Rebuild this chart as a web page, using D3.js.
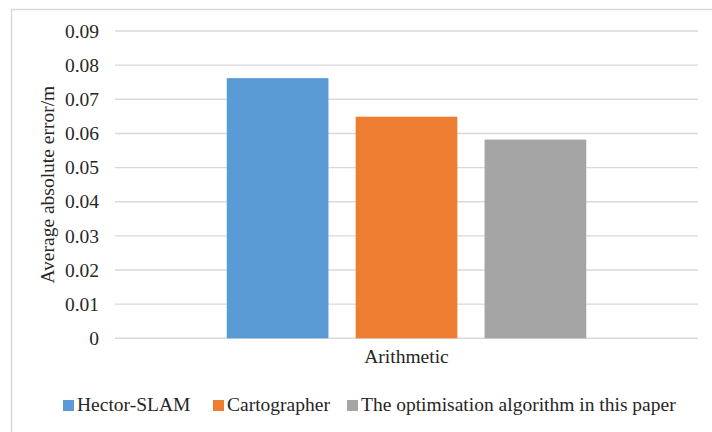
<!DOCTYPE html>
<html>
<head>
<meta charset="utf-8">
<script src="https://cdn.jsdelivr.net/npm/d3@7"></script>
</head>
<body style="margin:0">
<svg id="errplot" width="712" height="432" style="display:block"></svg>
<script>
// Chart data
const categories = ["Arithmetic"];
const seriesNames = ["Hector-SLAM", "Cartographer", "The optimisation algorithm in this paper"];
const seriesValues = [0.0762, 0.0649, 0.0582];
const seriesColors = ["#5b9bd5", "#ed7d31", "#a5a5a5"];
const yTicks = [0, 0.01, 0.02, 0.03, 0.04, 0.05, 0.06, 0.07, 0.08, 0.09];
const yTitle = "Average absolute error/m";

const FONT = "'Liberation Serif'";
const FONT_SIZE = "19.5px";
const TEXT_COLOR = "#262626";

const svg = d3.select("#errplot");
const W = 712, H = 432;
const plot = { left: 115, right: 698, top: 31, bottom: 338.3 };

function styleText(sel) {
  return sel.style("font-family", FONT, "important")
    .style("font-size", FONT_SIZE, "important")
    .style("fill", TEXT_COLOR);
}

// Outer frame (extends beyond the right and bottom edges)
svg.append("rect")
  .attr("x", 11.5).attr("y", 9.5)
  .attr("width", W + 10).attr("height", H + 10)
  .attr("fill", "#fff").attr("stroke", "#d9d9d9").attr("stroke-width", 1.5);

const y = d3.scaleLinear().domain([0, 0.09]).range([plot.bottom, plot.top]);
const x0 = d3.scaleBand().domain(categories).range([plot.left, plot.right]).padding(0);
const x1 = d3.scaleBand().domain(seriesNames)
  .range([0, x0.bandwidth()])
  .paddingInner(0.211).paddingOuter(0.867);

// Gridlines
svg.append("g").selectAll("line").data(yTicks).join("line")
  .attr("x1", plot.left).attr("x2", plot.right)
  .attr("y1", d => y(d)).attr("y2", d => y(d))
  .attr("stroke", "#d9d9d9").attr("stroke-width", 1.4);

// Y axis tick labels
const yAxis = d3.axisLeft(y).tickValues(yTicks)
  .tickFormat(d => d === 0 ? "0" : d3.format(".2f")(d))
  .tickSize(0).tickPadding(0);
const gy = svg.append("g").attr("transform", `translate(99,0)`).call(yAxis);
gy.attr("font-family", null).attr("font-size", null);
gy.select(".domain").remove();
styleText(gy.selectAll("text"));

// Bars
const gBars = svg.append("g");
categories.forEach(cat => {
  gBars.selectAll("rect.bar").data(seriesNames.map((s, i) => ({ s, v: seriesValues[i], c: seriesColors[i] })))
    .join("rect").attr("class", "bar")
    .attr("x", d => x0(cat) + x1(d.s))
    .attr("width", x1.bandwidth())
    .attr("y", d => y(d.v))
    .attr("height", d => y(0) - y(d.v))
    .attr("fill", d => d.c);
});

// Category label
const xAxis = d3.axisBottom(x0).tickSize(0).tickPadding(0);
const gx = svg.append("g").attr("transform", `translate(0,${plot.bottom + 6})`).call(xAxis);
gx.attr("font-family", null).attr("font-size", null);
gx.select(".domain").remove();
styleText(gx.selectAll("text")).attr("dy", "0.95em");

// Y axis title
styleText(svg.append("text")
  .attr("transform", `translate(54,${(plot.top + plot.bottom) / 2}) rotate(-90)`)
  .attr("text-anchor", "middle"))
  .text(yTitle);

// Legend
const legendX = [63, 213, 347];
const legend = svg.append("g").attr("transform", "translate(0,400)");
seriesNames.forEach((name, i) => {
  const g = legend.append("g").attr("transform", `translate(${legendX[i]},0)`);
  g.append("rect").attr("x", 0).attr("y", 0).attr("width", 11).attr("height", 11).attr("fill", seriesColors[i]);
  styleText(g.append("text").attr("x", 14).attr("y", 11)).text(name);
});
</script>
</body>
</html>
